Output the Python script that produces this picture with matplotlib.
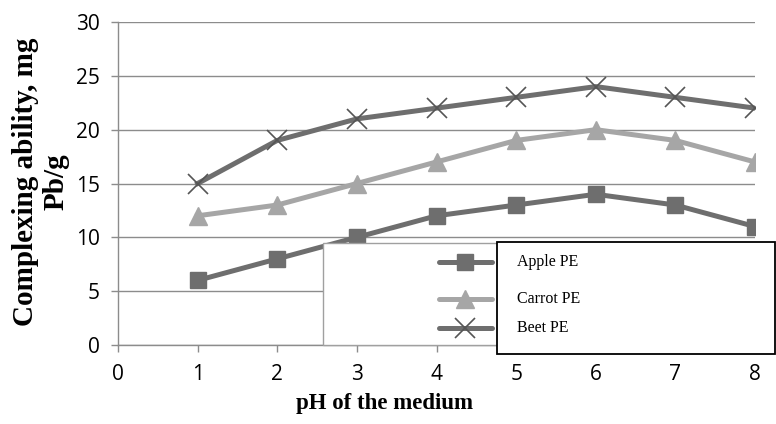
import matplotlib.pyplot as plt
from matplotlib.patches import Rectangle
from matplotlib.lines import Line2D

# data
ph = [1, 2, 3, 4, 5, 6, 7, 8]
apple = [6, 8, 10, 12, 13, 14, 13, 11]
carrot = [12, 13, 15, 17, 19, 20, 19, 17]
beet = [15, 19, 21, 22, 23, 24, 23, 22]
names = ["Apple PE", "Carrot PE", "Beet PE"]

DARK = "#6e6e6e"
LIGHT = "#a6a6a6"
GRID = "#8c8c8c"
TICKFONT = "Open Sans"
SERIF = "Liberation Serif"

W, H = 776, 424
fig = plt.figure(figsize=(W / 100, H / 100), dpi=100, facecolor="white")
ax = fig.add_axes([118 / W, 1 - 345 / H, (755 - 118) / W, (345 - 22) / H])

ax.plot(ph, apple, color=DARK, lw=3.6, marker="s", ms=12, mec=DARK, mfc=DARK, zorder=3)
ax.plot(ph, carrot, color=LIGHT, lw=3.6, marker="^", ms=13, mec=LIGHT, mfc=LIGHT, zorder=3)
ax.plot(ph, beet, color=DARK, lw=3.6, zorder=3)
ax.plot(ph, beet, ls="none", marker="x", ms=14, mew=1.2, color="#555555", zorder=4)

ax.set_xlim(0, 8)
ax.set_ylim(0, 30)
ax.set_xticks(range(0, 9))
ax.set_yticks(range(0, 31, 5))
ax.yaxis.grid(True, color=GRID, lw=1.0)
ax.set_axisbelow(True)
for s in ["top", "right"]:
    ax.spines[s].set_visible(False)
for s in ["left", "bottom"]:
    ax.spines[s].set_color(GRID)
    ax.spines[s].set_linewidth(1.0)
ax.tick_params(axis="both", direction="out", length=5, color=GRID, width=1.0,
               labelsize=15)
ax.tick_params(axis="x", pad=9)
ax.tick_params(axis="y", pad=8)
for lab in ax.get_xticklabels() + ax.get_yticklabels():
    lab.set_fontfamily(TICKFONT)

# axis titles placed like the original (x title sits left of centre)
fig.text(385 / W, 1 - 403 / H, "pH of the medium", family=SERIF, fontweight="bold",
         fontsize=16.5, ha="center", va="center")
fig.text(41 / W, 1 - 182 / H, "Complexing ability, mg\nPb/g", family=SERIF,
         fontweight="bold", fontsize=21, rotation=90, ha="center", va="center",
         multialignment="center", linespacing=1.15)

# legend boxes (figure pixels)
def fbox(x0, y0, x1, y1, ec, lw):
    r = Rectangle((x0 / W, 1 - y1 / H), (x1 - x0) / W, (y1 - y0) / H,
                  transform=fig.transFigure, facecolor="white", edgecolor=ec,
                  lw=lw, zorder=10)
    fig.add_artist(r)

fbox(323, 243, 500, 345, "#a0a0a0", 1.0)
fbox(497, 242, 775, 354, "black", 1.3)

handles = [
    dict(color=DARK, marker="s", ms=12, mfc=DARK, mec=DARK),
    dict(color=LIGHT, marker="^", ms=13, mfc=LIGHT, mec=LIGHT),
    dict(color=DARK, marker=None),
]
rows = [262, 299, 328]
for h, name, y in zip(handles, names, rows):
    fy = 1 - y / H
    ln = Line2D([439 / W, 492 / W], [fy, fy], transform=fig.transFigure,
                lw=3.6, solid_capstyle="round", zorder=11, color=h["color"])
    fig.add_artist(ln)
    if h["marker"]:
        mk = Line2D([465 / W], [fy], transform=fig.transFigure, ls="none",
                    marker=h["marker"], ms=h["ms"], mfc=h["mfc"], mec=h["mec"], zorder=12)
    else:
        mk = Line2D([465 / W], [fy], transform=fig.transFigure, ls="none",
                    marker="x", ms=14, mew=1.2, color="#555555", zorder=12)
    fig.add_artist(mk)
    fig.text(517 / W, fy, name, family=SERIF, fontsize=11.5, va="center", ha="left", zorder=12)

fig.savefig("out.png", dpi=100)
